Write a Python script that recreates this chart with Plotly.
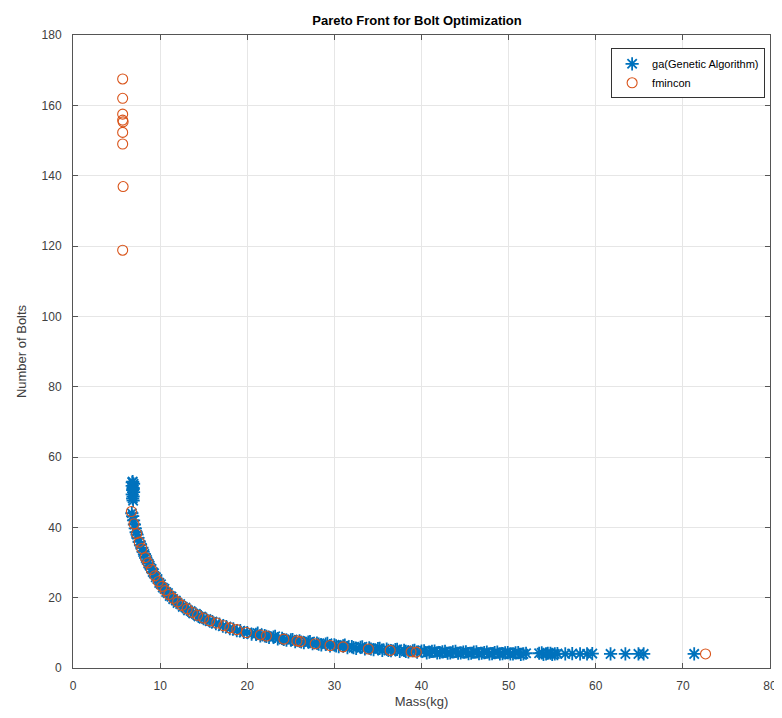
import plotly.graph_objects as go

# GA (Genetic Algorithm) Pareto points: mass (kg), number of bolts
ga_mass = [6.85, 6.95, 6.8, 6.9, 6.85, 6.95, 6.8, 6.9, 6.85, 6.9, 6.8, 6.9,
           6.75, 6.85, 6.95, 7.05, 7.15, 7.25, 7.35, 7.45, 7.6, 7.75, 7.9, 8.05,
           8.2, 8.35, 8.5, 8.65, 8.8, 9.0, 9.15, 9.3, 9.5, 9.7, 9.9, 10.1, 10.3,
           10.5, 10.7, 10.9, 11.1, 11.3, 11.5, 11.8, 12.0, 12.3, 12.6, 12.9, 13.2,
           13.5, 13.8, 14.1, 14.4, 14.7, 15.0, 15.3, 15.7, 16.0, 16.4, 16.8, 17.2,
           17.6, 18.0, 18.4, 18.8, 19.2, 19.6, 20.0, 20.5, 21.0, 21.5, 22.0, 22.5,
           23.0, 23.5, 24.0, 24.5, 25.0, 25.5, 26.0, 26.5, 27.0, 27.5, 28.0, 28.5,
           29.0, 29.5, 30.0, 30.5, 31.0, 31.5, 32.0, 32.5, 33.0, 33.5, 34.0, 34.5,
           35.0, 35.5, 36.0, 36.5, 37.0, 37.5, 38.0, 38.5, 39.0, 39.5, 40.0, 40.6,
           41.2, 41.8, 42.4, 43.0, 43.6, 44.2, 44.8, 45.4, 46.0, 46.6, 47.2, 47.8,
           48.4, 49.0, 49.6, 50.2, 50.8, 51.4, 52.0, 53.5, 54.0, 54.5, 55.0, 55.6,
           56.5, 57.3, 58.2, 59.0, 59.6, 61.7, 63.4, 64.9, 65.5, 71.3,
           40.3, 40.9, 41.5, 42.1, 42.7, 43.3, 43.9, 44.5, 45.1, 45.7, 46.3, 46.9,
           47.5, 48.1, 48.7, 49.3, 49.9, 50.5, 51.1, 51.7, 53.8, 54.3, 54.8, 55.3,
           21.2, 22.2, 23.2, 24.2, 25.2, 26.2, 27.2, 28.2, 29.2, 30.2, 31.2, 32.2,
           33.2, 34.2, 35.2, 36.2, 37.2, 38.2, 39.2]
ga_bolts = [53.0, 52.4, 51.8, 51.2, 50.6, 50.0, 49.4, 48.8, 48.2, 47.6, 52.8, 50.9,
            44.0, 43.2, 42.0, 40.8, 39.7, 38.6, 37.9, 37.0, 35.9, 35.0, 34.2, 33.0,
            32.4, 31.3, 30.7, 29.7, 29.1, 28.2, 27.3, 26.9, 25.8, 25.3, 24.2, 23.8, 22.9,
            22.5, 21.6, 21.3, 20.5, 20.3, 19.6, 19.2, 18.5, 18.2, 17.4, 17.2, 16.4,
            16.2, 15.5, 15.4, 14.7, 14.6, 14.0, 13.9, 13.3, 13.2, 12.6, 12.5, 11.9,
            11.8, 11.2, 11.1, 10.6, 10.6, 10.1, 10.1, 9.6, 9.6, 9.1, 9.2, 8.7,
            8.8, 8.3, 8.4, 7.9, 8.0, 7.5, 7.7, 7.2, 7.4, 6.9, 7.1, 6.6,
            6.8, 6.3, 6.6, 6.1, 6.3, 5.8, 6.1, 5.6, 5.9, 5.4, 5.7, 5.2,
            5.5, 5.0, 5.4, 4.9, 5.2, 4.7, 5.0, 4.6, 4.9, 4.5, 4.8, 4.3,
            4.7, 4.3, 4.6, 4.2, 4.6, 4.2, 4.5, 4.1, 4.5, 4.1, 4.4, 4.0,
            4.4, 4.0, 4.3, 4.0, 4.3, 3.9, 4.2, 4.2, 3.9, 4.2, 3.9, 4.1,
            4.0, 4.1, 4.0, 4.0, 4.1, 4.0, 4.0, 4.0, 4.0, 4.0,
            4.9, 4.5, 4.8, 4.4, 4.7, 4.3, 4.7, 4.3, 4.6, 4.2, 4.6, 4.2,
            4.5, 4.1, 4.5, 4.1, 4.4, 4.0, 4.4, 4.0, 4.3, 4.0, 4.2, 4.0,
            9.9, 9.0, 9.0, 8.1, 8.1, 7.4, 7.5, 6.8, 7.0, 6.3, 6.5, 5.8,
            6.0, 5.4, 5.6, 5.0, 5.3, 4.7, 5.0]

# fmincon points
fm_mass = [5.7, 5.7, 5.7, 5.7, 5.75, 5.7, 5.7, 5.75, 5.7,
           6.7, 7.0, 7.3, 7.6, 7.9, 8.3, 8.6, 9.0, 9.4, 9.8, 10.2, 10.6, 11.0,
           11.5, 12.0, 12.5, 13.1, 13.7, 14.3, 15.0, 15.7, 16.5, 17.3, 18.0,
           18.8, 19.9, 21.5, 22.2, 24.2, 25.7, 26.1, 27.8, 29.5, 31.0, 33.9,
           36.4, 38.8, 39.4, 72.6]
fm_bolts = [167.5, 162.0, 157.5, 155.8, 155.3, 152.3, 149.0, 136.9, 118.8,
            44.5, 41.0, 38.2, 35.8, 34.0, 31.4, 29.9, 28.0, 26.2, 24.6, 23.2, 22.0, 20.9,
            19.8, 18.8, 17.8, 16.8, 15.8, 15.0, 14.2, 13.4, 12.8, 12.0, 11.4,
            10.9, 10.1, 9.4, 9.1, 8.2, 7.7, 7.5, 6.9, 6.4, 6.0, 5.4,
            5.0, 4.6, 4.5, 4.0]

x_ticks = [0, 10, 20, 30, 40, 50, 60, 70, 80]
y_ticks = [0, 20, 40, 60, 80, 100, 120, 140, 160, 180]

FONT = "Liberation Sans, Arial, sans-serif"
AX = "#555555"
TXT = "#404040"

fig = go.Figure()
fig.add_trace(go.Scatter(
    x=ga_mass, y=ga_bolts, mode="markers", name="ga(Genetic Algorithm)",
    marker=dict(symbol="asterisk-open", size=11, color="#0072BD",
                line=dict(color="#0072BD", width=1.8)),
))
fig.add_trace(go.Scatter(
    x=fm_mass, y=fm_bolts, mode="markers", name="fmincon",
    marker=dict(symbol="circle-open", size=10, color="#D95319",
                line=dict(color="#D95319", width=1.1)),
))

axis_common = dict(
    showline=True, linecolor=AX, linewidth=1, mirror="ticks",
    ticks="inside", ticklen=5, tickcolor=AX, tickwidth=1,
    showgrid=True, gridcolor="#e6e6e6", gridwidth=1,
    zeroline=False, tickfont=dict(family=FONT, size=12, color=TXT),
)
fig.update_xaxes(range=[0, 80], tickvals=x_ticks, ticklabelstandoff=7,
                 title=dict(text="Mass(kg)", font=dict(family=FONT, size=13, color=TXT), standoff=4),
                 **axis_common)
fig.update_yaxes(range=[0, 180], tickvals=y_ticks, ticklabelstandoff=8,
                 title=dict(text="Number of Bolts", font=dict(family=FONT, size=13, color=TXT), standoff=12),
                 **axis_common)

fig.update_layout(
    width=782, height=718,
    margin=dict(l=61, r=20, t=27, b=58),
    paper_bgcolor="white", plot_bgcolor="white",
    title=dict(text="<b>Pareto Front for Bolt Optimization</b>", x=0.523, xanchor="center",
               y=0.983, yanchor="middle", font=dict(family=FONT, size=13, color="#000000")),
    legend=dict(x=0.993, y=0.979, xanchor="right", yanchor="top",
                bgcolor="white", bordercolor="#333333", borderwidth=1,
                font=dict(family=FONT, size=11, color="#000000"),
                itemwidth=30, tracegroupgap=0),
    showlegend=True,
)

fig.write_html("out.html")
